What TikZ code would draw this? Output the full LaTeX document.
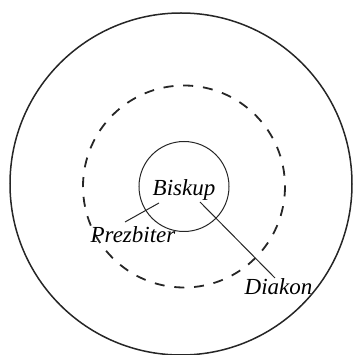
\documentclass[tikz,border=0pt]{standalone}
\usepackage{fontspec}
\setmainfont{Liberation Serif}
\begin{document}
\begin{tikzpicture}[x=1pt,y=-1pt,
  lbl/.style={font=\fontsize{23}{27}\selectfont\itshape, inner sep=0pt, anchor=base},
  ring/.style={draw=black!85, fill=none}]
\useasboundingbox (0,0) rectangle (357,355);
\coordinate (oc) at (181,184);
\coordinate (c) at (184,186.5);
\draw[ring, line width=1.5pt] (oc) circle[radius=171];
\draw[ring, line width=1.8pt, dash pattern=on 10pt off 9.8pt] (c) circle[radius=101];
\node[ring, circle, minimum size=90pt, line width=1pt] (inner) at (c) {};
\node[lbl] (bis) at (184,196) {Biskup};
\node[lbl] (prez) at (133,243) {Prezbiter};
\node[lbl] (dia) at (278.5,295) {Diakon};
\coordinate (p1) at (159,203);
\coordinate (p2) at (125,222);
\coordinate (d1) at (200,202);
\coordinate (d2) at (275,278);
\draw[line width=1pt, black!85] (p1) -- (p2);
\draw[line width=1pt, black!85] (d1) -- (d2);
\end{tikzpicture}
\end{document}
